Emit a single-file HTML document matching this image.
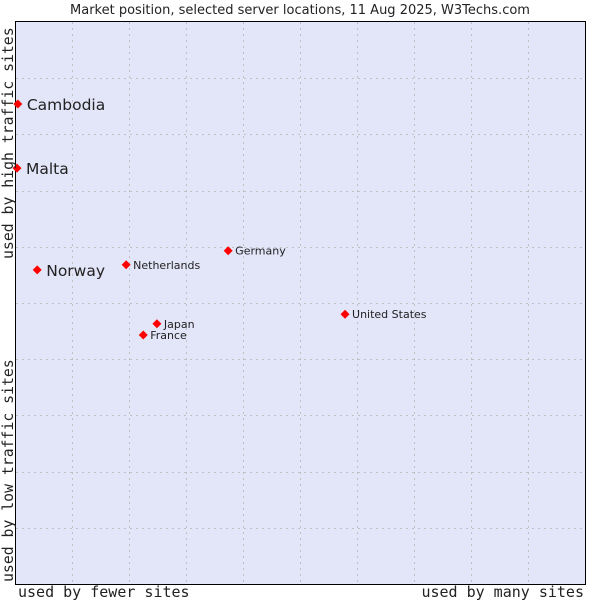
<!DOCTYPE html>
<html><head><meta charset="utf-8"><style>
body{margin:0;background:#fff;width:600px;height:600px;overflow:hidden}
svg text{font-family:"DejaVu Sans","Liberation Sans",sans-serif;fill:#222}
.mono{font-family:"DejaVu Sans Mono","Liberation Mono",monospace}
</style></head><body>
<svg id="c" width="600" height="600">
<text x="300" y="14" text-anchor="middle" font-size="13">Market position, selected server locations, 11 Aug 2025, W3Techs.com</text>
<rect x="15.5" y="21.5" width="570" height="563" fill="#e3e5f8" stroke="#000"/>
<g id="grid"></g>
<g id="pts"></g>
<text class="mono" x="18" y="597" font-size="15">used by fewer sites</text>
<text class="mono" x="584" y="597" font-size="15" text-anchor="end">used by many sites</text>
<text class="mono" transform="translate(13,582) rotate(-90)" font-size="14.8">used by low traffic sites</text>
<text class="mono" transform="translate(13,259) rotate(-90)" font-size="14.8">used by high traffic sites</text>
</svg>
<script>
const countries=["Cambodia","Malta","Norway","Netherlands","Germany","United States","Japan","France"];
const xVals=[0.5,0.35,3.9,19.5,37.4,57.9,24.9,22.5];
const yVals=[85.4,74.0,55.9,56.8,59.3,48.0,46.3,44.3];
const bigLabel=[true,true,true,false,false,false,false,false];
const gridTicks=[10,20,30,40,50,60,70,80,90];
const NS="http://www.w3.org/2000/svg";
const sx=v=>15+v*5.7, sy=v=>584-v*5.62;
const grid=document.getElementById('grid'), pts=document.getElementById('pts');
gridTicks.forEach(t=>{
  const l=document.createElementNS(NS,'line');
  
  
  const x=Math.round(sx(t))+0.5;
  l.setAttribute('x1',x);l.setAttribute('x2',x);l.setAttribute('y1',22);l.setAttribute('y2',584);
  l.setAttribute('stroke','#c0c0c0');l.setAttribute('stroke-dasharray','2,4');grid.appendChild(l);
  const h=document.createElementNS(NS,'line');
  
  
  const y=Math.round(sy(t))+0.5;
  h.setAttribute('y1',y);h.setAttribute('y2',y);h.setAttribute('x1',16);h.setAttribute('x2',585);
  h.setAttribute('stroke','#c0c0c0');h.setAttribute('stroke-dasharray','2,4');grid.appendChild(h);
});
countries.forEach((c,i)=>{
  const x=sx(xVals[i]), y=sy(yVals[i]);
  const p=document.createElementNS(NS,'polygon');
  
  
  p.setAttribute('points',`${x},${y-4.5} ${x+4.5},${y} ${x},${y+4.5} ${x-4.5},${y}`);
  p.setAttribute('fill','#f00');pts.appendChild(p);
  const t=document.createElementNS(NS,'text');
  
  
  t.setAttribute('x',x+(bigLabel[i]?9:7));t.setAttribute('y',y+(bigLabel[i]?6:4));
  t.setAttribute('font-size',bigLabel[i]?15.5:11);t.textContent=c;pts.appendChild(t);
});
</script>
</body></html>
